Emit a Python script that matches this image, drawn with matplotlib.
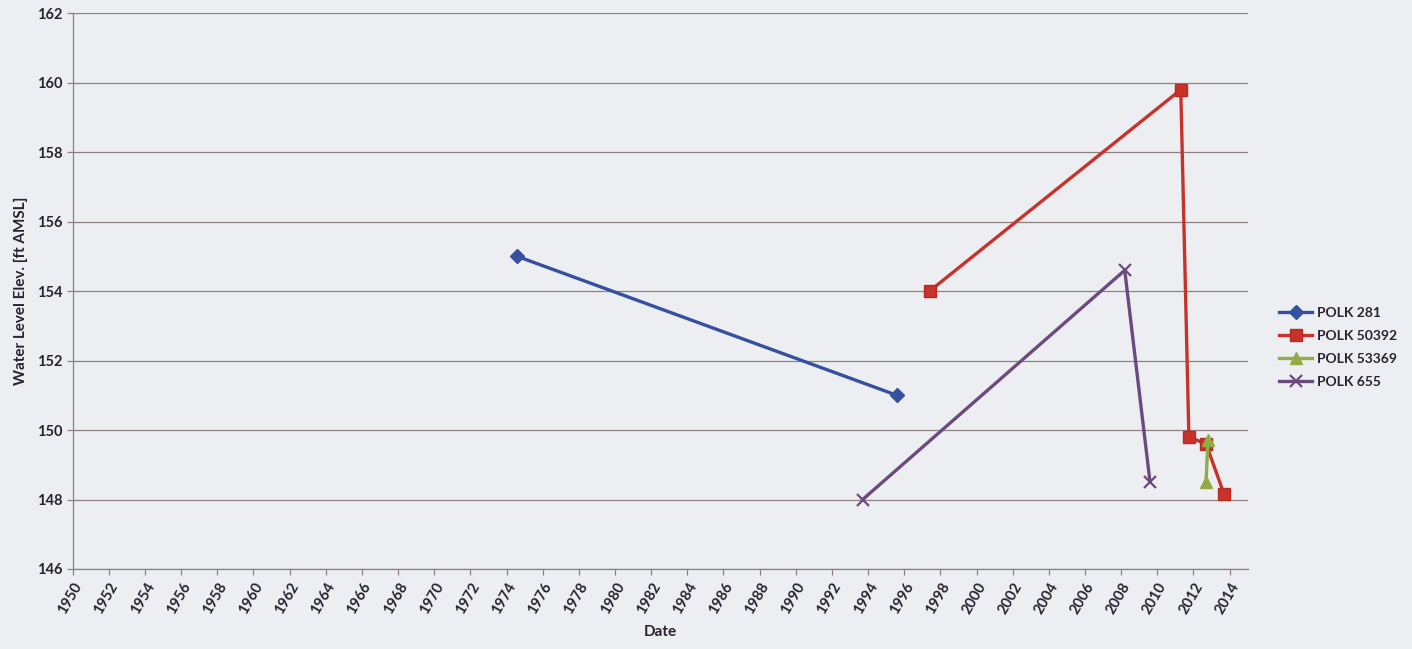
import matplotlib
matplotlib.use("Agg")
import matplotlib.pyplot as plt
import numpy as np

# Water level observations (decimal year, elevation in ft AMSL)
polk281_x = [1974.6, 1995.6]
polk281_y = [155.0, 151.0]

polk50392_x = [1997.4, 2011.3, 2011.75, 2012.7, 2013.7]
polk50392_y = [154.0, 159.8, 149.8, 149.6, 148.15]

polk53369_x = [2012.8, 2012.7]
polk53369_y = [149.7, 148.5]

polk655_x = [1993.7, 2008.2, 2009.6]
polk655_y = [148.0, 154.6, 148.5]

year_ticks = list(range(1950, 2015, 2))
elev_ticks = list(range(146, 163, 2))

bg = "#eceef2"
grid_c = "#8e8080"
text_c = "#2b2230"

plt.rcParams["font.family"] = ["Lato", "DejaVu Sans"]
plt.rcParams["font.weight"] = "bold"

fig = plt.figure(figsize=(14.12, 6.49), dpi=100, facecolor=bg)
ax = fig.add_axes([0.0515, 0.1233, 0.8321, 0.8562], facecolor=bg)

ax.plot(polk281_x, polk281_y, color="#34509f", lw=2.4, marker="D", ms=7,
        label="POLK 281")
ax.plot(polk50392_x, polk50392_y, color="#c8322a", lw=2.4, marker="s", ms=9,
        mec="#b82a24", label="POLK 50392")
ax.plot(polk53369_x, polk53369_y, color="#93ab45", lw=2.4, marker="^", ms=8,
        label="POLK 53369")
ax.plot(polk655_x, polk655_y, color="#6b4a7e", lw=2.4, marker="x", ms=9,
        mew=1.6, label="POLK 655")

ax.set_xlim(1950, 2015)
ax.set_ylim(146, 162)
ax.set_xticks(year_ticks)
ax.set_xticklabels([str(y) for y in year_ticks], rotation=60, ha="right",
                   rotation_mode="anchor", fontsize=10.5, fontweight="bold",
                   color=text_c)
ax.set_yticks(elev_ticks)
ax.set_yticklabels([str(v) for v in elev_ticks], fontsize=10.5,
                   fontweight="bold", color=text_c)

ax.yaxis.grid(True, color=grid_c, lw=0.9)
ax.set_axisbelow(True)
for side in ("top", "right"):
    ax.spines[side].set_visible(False)
for side in ("left", "bottom"):
    ax.spines[side].set_color(grid_c)
    ax.spines[side].set_linewidth(0.9)
ax.tick_params(axis="both", color=grid_c, length=4, width=0.9)
ax.tick_params(axis="x", pad=4)

ax.set_xlabel("Date", fontsize=11, fontweight="bold", color=text_c, labelpad=6)
ax.set_ylabel("Water Level Elev. [ft AMSL]", fontsize=11, fontweight="bold",
              color=text_c, labelpad=6)

leg = fig.legend(loc="center left", bbox_to_anchor=(0.897, 0.465),
                 frameon=False, fontsize=10, handlelength=2.4,
                 labelspacing=0.8, handletextpad=0.3)
for t in leg.get_texts():
    t.set_color(text_c)
    t.set_fontweight("bold")

fig.savefig("out.png", dpi=100, facecolor=bg)
